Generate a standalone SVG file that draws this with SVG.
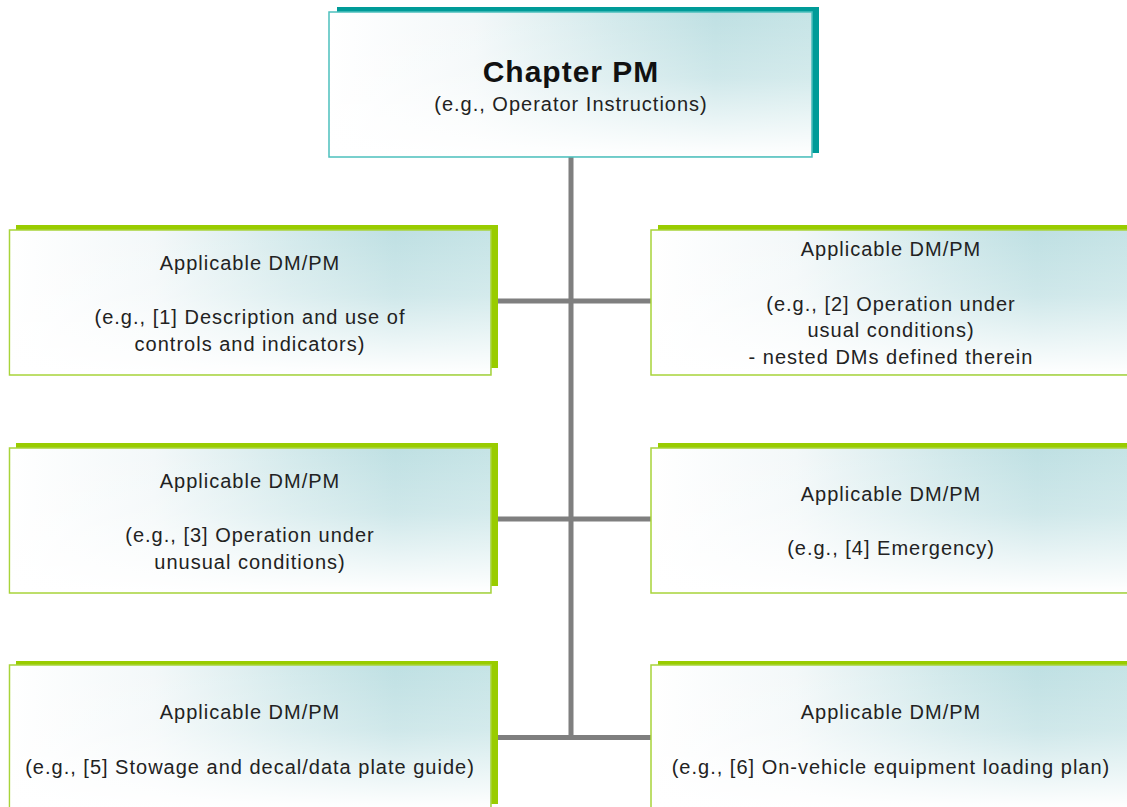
<svg xmlns="http://www.w3.org/2000/svg" width="1127" height="807" viewBox="0 0 1127 807">
  <defs>
    <linearGradient id="fillH" x1="0" y1="0" x2="1" y2="0">
      <stop offset="0" stop-color="#ffffff"/>
      <stop offset="0.3" stop-color="#f3f8f9"/>
      <stop offset="0.6" stop-color="#d2e9eb"/>
      <stop offset="0.8" stop-color="#bfe0e3"/>
      <stop offset="1" stop-color="#c6e4e6"/>
    </linearGradient>
    <linearGradient id="fadeV" x1="0" y1="0" x2="0" y2="1">
      <stop offset="0" stop-color="#ffffff" stop-opacity="0"/>
      <stop offset="0.45" stop-color="#ffffff" stop-opacity="0.25"/>
      <stop offset="1" stop-color="#ffffff" stop-opacity="1"/>
    </linearGradient>
    <style>
      .shadowTeal { fill: #009b98; }
      .shadowGreen { fill: #99cc00; }
      .frontTeal { fill: url(#fillH); stroke: #4cc0bd; stroke-width: 1.5; }
      .frontGreen { fill: url(#fillH); stroke: #a8d43a; stroke-width: 1.5; }
      .fade { fill: url(#fadeV); }
      .title { font-family: "Liberation Sans", Arial, sans-serif; font-size: 30px; font-weight: bold; fill: #111; text-anchor: middle; letter-spacing: 1px; }
      .txt { font-family: "Liberation Sans", Arial, sans-serif; font-size: 20px; fill: #222; text-anchor: middle; letter-spacing: 1px; }
      .conn { stroke: #7f7f7f; stroke-width: 5; fill: none; }
    </style>
  </defs>
  <rect width="1127" height="807" fill="#ffffff"/>

  <!-- connectors -->
  <g id="connectors">
    <line class="conn" x1="571" y1="157" x2="571" y2="739"/>
    <line class="conn" x1="491" y1="301" x2="651" y2="301"/>
    <line class="conn" x1="491" y1="519" x2="651" y2="519"/>
    <line class="conn" x1="491" y1="737.5" x2="651" y2="737.5"/>
  </g>

  <!-- top-level chapter -->
  <g id="chapter-pm">
    <rect class="shadowTeal" x="337" y="7" width="482" height="146"/>
    <rect class="frontTeal" x="329" y="12" width="483" height="145"/>
    <rect class="fade" x="330" y="13" width="481" height="143"/>
    <text class="title" x="571" y="82">Chapter PM</text>
    <text class="txt" x="571" y="111">(e.g., Operator Instructions)</text>
  </g>

  <g id="dm-1">
    <rect class="shadowGreen" x="16" y="225" width="482" height="143"/>
    <rect class="frontGreen" x="9.5" y="230" width="481.5" height="145"/>
    <rect class="fade" x="10.5" y="231" width="479.5" height="143"/>
    <text class="txt" x="250" y="270">Applicable DM/PM</text>
    <text class="txt" x="250" y="324">(e.g., [1] Description and use of</text>
    <text class="txt" x="250" y="351">controls and indicators)</text>
  </g>

  <g id="dm-2">
    <rect class="shadowGreen" x="658" y="225" width="482" height="143"/>
    <rect class="frontGreen" x="651" y="230" width="482" height="145"/>
    <rect class="fade" x="652" y="231" width="480" height="143"/>
    <text class="txt" x="891" y="256">Applicable DM/PM</text>
    <text class="txt" x="891" y="311">(e.g., [2] Operation under</text>
    <text class="txt" x="891" y="337">usual conditions)</text>
    <text class="txt" x="891" y="364">- nested DMs defined therein</text>
  </g>

  <g id="dm-3">
    <rect class="shadowGreen" x="16" y="443" width="482" height="143"/>
    <rect class="frontGreen" x="9.5" y="448" width="481.5" height="145"/>
    <rect class="fade" x="10.5" y="449" width="479.5" height="143"/>
    <text class="txt" x="250" y="488">Applicable DM/PM</text>
    <text class="txt" x="250" y="542">(e.g., [3] Operation under</text>
    <text class="txt" x="250" y="569">unusual conditions)</text>
  </g>

  <g id="dm-4">
    <rect class="shadowGreen" x="658" y="443" width="482" height="143"/>
    <rect class="frontGreen" x="651" y="448" width="482" height="145"/>
    <rect class="fade" x="652" y="449" width="480" height="143"/>
    <text class="txt" x="891" y="501">Applicable DM/PM</text>
    <text class="txt" x="891" y="555">(e.g., [4] Emergency)</text>
  </g>

  <g id="dm-5">
    <rect class="shadowGreen" x="16" y="661" width="482" height="143"/>
    <rect class="frontGreen" x="9.5" y="665" width="481.5" height="145"/>
    <rect class="fade" x="10.5" y="666" width="479.5" height="143"/>
    <text class="txt" x="250" y="719">Applicable DM/PM</text>
    <text class="txt" x="250" y="774">(e.g., [5] Stowage and decal/data plate guide)</text>
  </g>

  <g id="dm-6">
    <rect class="shadowGreen" x="658" y="661" width="482" height="143"/>
    <rect class="frontGreen" x="651" y="665" width="482" height="145"/>
    <rect class="fade" x="652" y="666" width="480" height="143"/>
    <text class="txt" x="891" y="719">Applicable DM/PM</text>
    <text class="txt" x="891" y="774">(e.g., [6] On-vehicle equipment loading plan)</text>
  </g>
</svg>
